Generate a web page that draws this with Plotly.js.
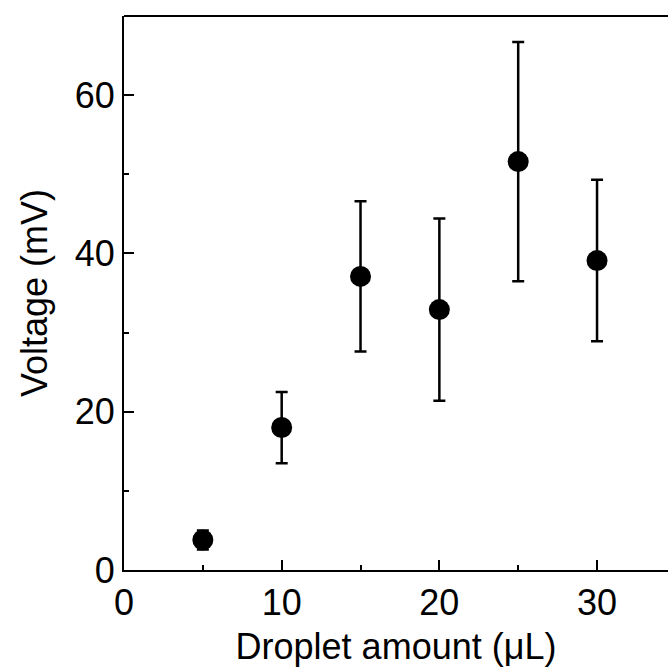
<!DOCTYPE html>
<html>
<head>
<meta charset="utf-8">
<script src="https://cdn.plot.ly/plotly-3.0.1.min.js"></script>
<style>html,body{margin:0;padding:0;background:#fff;}#chart{width:668px;height:667px;}</style>
</head>
<body>
<div id="chart"></div>
<script>
const dropletAmount = [5, 10, 15, 20, 25, 30];
const voltage = [3.8, 18.0, 37.1, 32.9, 51.6, 39.1];
const voltageErr = [1.2, 4.5, 9.5, 11.5, 15.1, 10.2];
const xTickVals = [0, 10, 20, 30];
const yTickVals = [0, 20, 40, 60];

const font = "Liberation Sans, Arial, sans-serif";
const trace = {
  x: dropletAmount,
  y: voltage,
  mode: 'markers',
  type: 'scatter',
  marker: {color: '#000', size: 21},
  error_y: {type: 'data', array: voltageErr, visible: true, color: '#000', thickness: 2.5, width: 6},
  showlegend: false,
  hoverinfo: 'none'
};
const layout = {
  width: 668, height: 667,
  margin: {l: 124, r: 0, t: 16, b: 97},
  paper_bgcolor: '#fff', plot_bgcolor: '#fff',
  font: {family: font, color: '#000'},
  xaxis: {
    range: [0, 34.5], showgrid: false, zeroline: false,
    showline: true, linecolor: '#000', linewidth: 2,
    ticks: 'inside', ticklen: 10, tickwidth: 2, tickcolor: '#000',
    tickvals: xTickVals, ticktext: xTickVals.map(String),
    tickfont: {size: 36, family: font},
    minor: {ticks: 'inside', ticklen: 5, tickwidth: 2, tickcolor: '#000', tickvals: [5, 15, 25]},
    title: {text: 'Droplet amount (μL)', font: {size: 36, family: font}, standoff: 12}
  },
  yaxis: {
    range: [0, 70], showgrid: false, zeroline: false,
    showline: true, linecolor: '#000', linewidth: 2,
    ticks: 'inside', ticklen: 10, tickwidth: 2, tickcolor: '#000',
    tickvals: yTickVals, ticktext: yTickVals.map(String),
    tickfont: {size: 36, family: font},
    minor: {ticks: 'inside', ticklen: 5, tickwidth: 2, tickcolor: '#000', tickvals: [10, 30, 50]},
    title: {text: 'Voltage (mV)', font: {size: 36, family: font}, standoff: 16}
  },
  shapes: [{type: 'line', xref: 'paper', yref: 'paper', x0: 0, x1: 1, y0: 1, y1: 1, line: {color: '#000', width: 2}}]
};
Plotly.newPlot('chart', [trace], layout, {staticPlot: true, displayModeBar: false});
</script>
</body>
</html>
